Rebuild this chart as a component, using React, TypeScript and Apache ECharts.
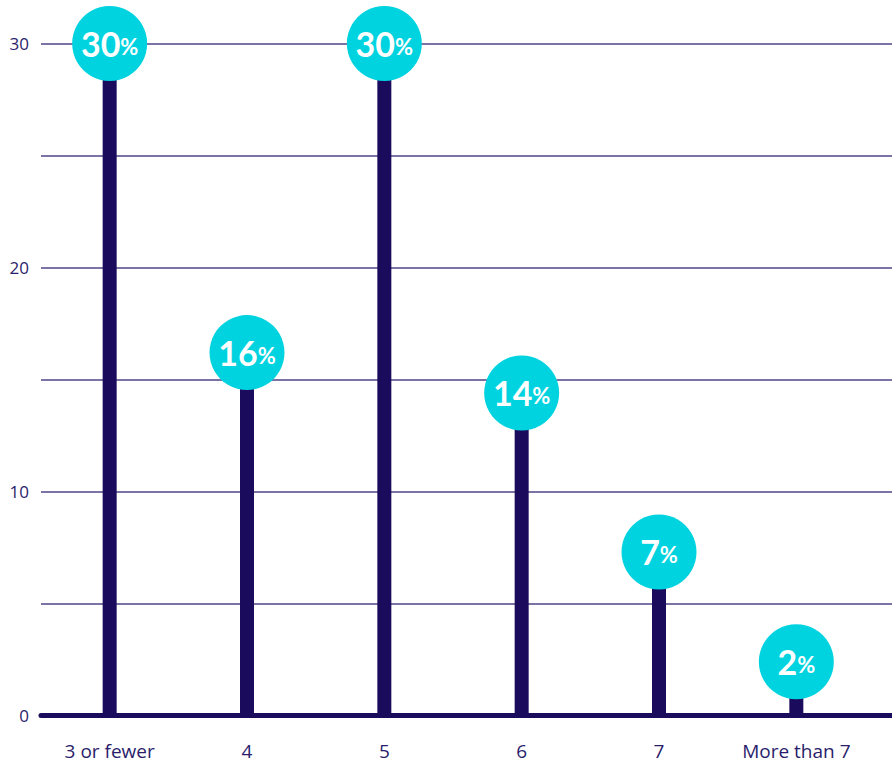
import React, { useEffect, useRef } from "react";
import * as echarts from "echarts";

const categories = ["3 or fewer", "4", "5", "6", "7", "More than 7"];
const values = [30, 16.2, 30, 14.4, 7.3, 2.4];
const yTickLabels = [0, 10, 20, 30];

const NAVY = "#1b0b5c";
const CYAN = "#00d3e0";
const GRID = "#4f4585";
const TEXT = "#2a1d6b";

export default function App() {
  const ref = useRef<HTMLDivElement>(null);
  useEffect(() => {
    if (!ref.current) return;
    const chart = echarts.init(ref.current, undefined, { renderer: "svg" });
    chart.setOption({
      animation: false,
      grid: [
        { left: 41, right: 0, top: 43.5, bottom: 51.5 },
        { left: 41, right: 27, top: 43.5, bottom: 51.5 },
      ],
      xAxis: [
        {
          gridIndex: 0,
          type: "value",
          min: 0,
          max: 1,
          axisLine: { show: true, onZero: false, lineStyle: { color: NAVY, width: 5 } },
          axisTick: { show: false },
          axisLabel: { show: false },
          splitLine: { show: false },
        },
        {
          gridIndex: 1,
          type: "category",
          data: categories,
          axisLine: { show: false },
          axisTick: { show: false },
          axisLabel: {
            interval: 0,
            hideOverlap: false,
            color: TEXT,
            fontSize: 19,
            fontFamily: "Open Sans",
            margin: 26,
          },
        },
      ],
      yAxis: [
        {
          gridIndex: 0,
          type: "value",
          min: 0,
          max: 30,
          interval: 5,
          axisLine: { show: false },
          axisTick: { show: false },
          axisLabel: {
            color: TEXT,
            fontSize: 17,
            fontFamily: "Open Sans",
            margin: 12,
            formatter: (v: number) => (yTickLabels.includes(v) ? String(v) : ""),
          },
          splitLine: { show: true, lineStyle: { color: GRID, width: 1.5 } },
        },
        {
          gridIndex: 1,
          type: "value",
          min: 0,
          max: 30,
          show: false,
          splitLine: { show: false },
        },
      ],
      series: [
        {
          type: "bar",
          xAxisIndex: 1,
          yAxisIndex: 1,
          data: values,
          barWidth: 14,
          itemStyle: { color: NAVY },
          z: 3,
        },
        {
          type: "scatter",
          xAxisIndex: 1,
          yAxisIndex: 1,
          data: values,
          symbol: "circle",
          symbolSize: 75,
          itemStyle: { color: CYAN, opacity: 1 },
          z: 4,
          label: {
            show: true,
            position: "inside",
            formatter: (p: any) => `{n|${Math.round(p.value)}}{p|%}`,
            rich: {
              n: {
                color: "#ffffff",
                fontSize: 34,
                fontWeight: "bold",
                fontFamily: "Lato",
              },
              p: {
                color: "#ffffff",
                fontSize: 22,
                fontWeight: "bold",
                fontFamily: "Lato",
                padding: [6, 0, 0, 0],
              },
            },
          },
        },
      ],
    });
    return () => chart.dispose();
  }, []);
  return (
    <div
      ref={ref}
      style={{ position: "fixed", left: 0, top: 0, width: 892, height: 767, background: "#fff" }}
    />
  );
}
